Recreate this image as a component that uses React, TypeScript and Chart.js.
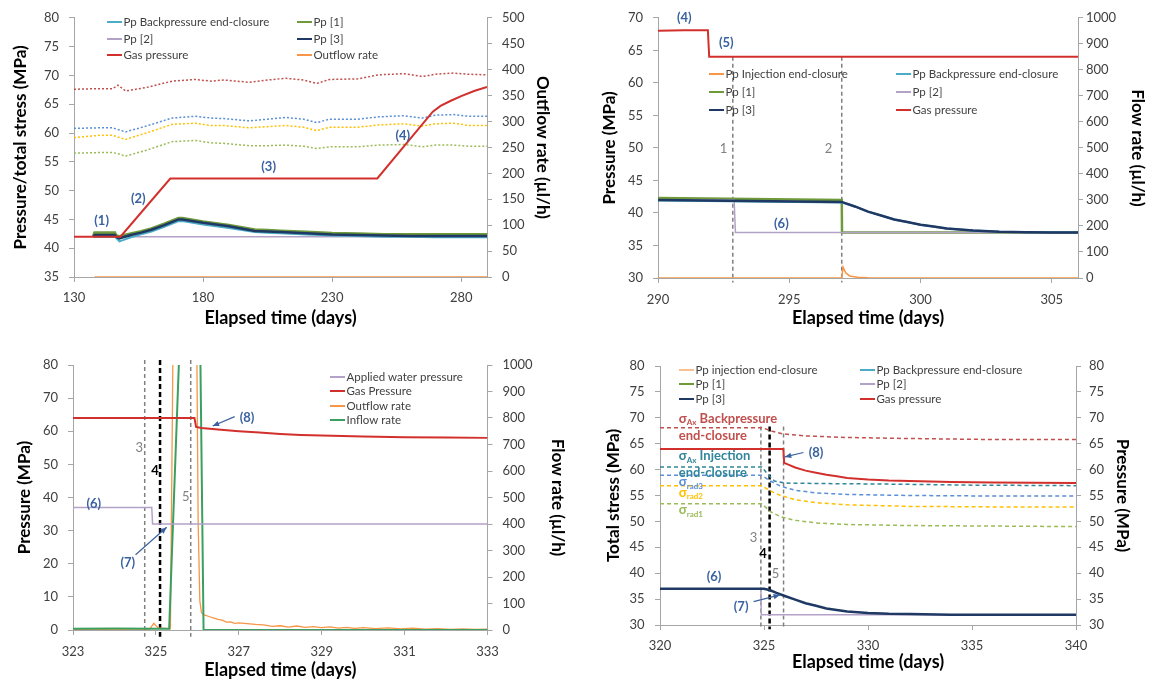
import React, { useEffect, useRef } from 'react';
import { Chart, registerables } from 'chart.js';
Chart.register(...registerables);

const FONT = 'Lato, "Open Sans", sans-serif';
const AXIS = '#a6a6a6';
const TICK = '#404040';
const ANN = '#3a62a0';
const C = {
  gas: '#d2302c', back: '#4bacc6', pp1: '#6f9a3a', pp2: '#b3a2c7', pp3: '#1f3864',
  orange: '#f79646', injLight: '#fac090', inflow: '#3a9f60', sRed: '#c0504d', sBlue: '#5b8fd6',
  sYellow: '#ffc000', sGreen: '#9bbb59', sTeal: '#31859c', gray: '#808080', black: '#000000',
};

// ---------------- Panel 1 data (days / MPa / µl/h) ----------------
const p1XTicks = [130, 180, 230, 280];
const p1YTicks = [35, 40, 45, 50, 55, 60, 65, 70, 75, 80];
const p1Y2Ticks = [0, 50, 100, 150, 200, 250, 300, 350, 400, 450, 500];
const p1Gas = [[130, 42], [148, 42], [167.3, 52.1], [247.5, 52.1], [269, 63.7], [272, 64.7], [276, 65.6], [280, 66.4], [285, 67.3], [290, 68]];
const p1StressX = [130, 140, 145, 147, 150, 158, 168, 177, 183, 188, 198, 205, 212, 219, 224, 229, 240, 248, 258, 265, 270, 277, 283, 290];
const p1SigRed = [67.6, 67.7, 67.7, 68.3, 67.3, 67.9, 69.0, 69.3, 69.0, 69.2, 68.8, 69.2, 69.5, 69.2, 68.6, 69.3, 69.4, 70.1, 70.3, 69.8, 70.2, 70.4, 70.2, 70.1];
const p1SigBlue = [60.8, 60.9, 60.9, 60.6, 60.2, 61.2, 62.6, 62.9, 62.6, 62.5, 62.1, 62.4, 62.7, 62.4, 61.8, 62.4, 62.4, 62.8, 63.0, 62.6, 63.1, 63.2, 62.9, 62.9];
const p1SigYellow = [59.2, 59.6, 59.6, 59.3, 58.9, 60.0, 61.5, 61.7, 61.3, 61.3, 60.9, 61.1, 61.3, 61.0, 60.4, 61.0, 61.0, 61.4, 61.6, 61.2, 61.6, 61.7, 61.3, 61.3];
const p1SigGreen = [56.5, 56.6, 56.6, 56.4, 56.0, 57.0, 58.5, 58.7, 58.3, 58.2, 57.8, 57.8, 57.9, 57.7, 57.3, 57.6, 57.6, 57.9, 58.0, 57.6, 57.9, 57.9, 57.7, 57.7];
const p1PpX = [137.5, 138, 145.8, 146.3, 147.6, 149, 152, 156, 160, 165, 170.5, 172, 180, 190, 200, 205, 210, 220, 230, 240, 250, 260, 270, 280, 290];
const p1Pp1 = [42.1, 42.7, 42.7, 42.2, 42.0, 42.2, 42.5, 42.9, 43.4, 44.2, 45.2, 45.2, 44.6, 44.0, 43.2, 43.1, 43.0, 42.8, 42.6, 42.5, 42.4, 42.4, 42.4, 42.4, 42.4];
const p1Pp3 = [42.0, 42.3, 42.3, 42.0, 41.7, 41.9, 42.3, 42.7, 43.2, 44.0, 45.0, 45.0, 44.4, 43.8, 43.0, 42.9, 42.8, 42.6, 42.4, 42.3, 42.2, 42.1, 42.1, 42.1, 42.1];
const p1Back = [42.0, 42.0, 42.0, 41.8, 41.2, 41.4, 41.9, 42.4, 42.9, 43.7, 44.7, 44.7, 44.1, 43.5, 42.8, 42.7, 42.6, 42.4, 42.2, 42.1, 42.0, 42.0, 41.9, 41.9, 41.9];
const p1Pp2 = [[137.5, 42], [290, 42]];
const p1Outflow = [[138, 0], [290, 0]];

// ---------------- Panel 2 data ----------------
const p2XTicks = [290, 295, 300, 305];
const p2YTicks = [30, 35, 40, 45, 50, 55, 60, 65, 70];
const p2Y2Ticks = [0, 100, 200, 300, 400, 500, 600, 700, 800, 900, 1000];
const p2Gas = [[290, 68], [291, 68.1], [291.9, 68.1], [291.95, 64], [306, 64]];
const p2Pp1 = [[290, 42.3], [297, 42.0], [297.01, 37], [306, 37]];
const p2Pp3 = [[290, 42.0], [297, 41.7], [297.5, 41.0], [298, 40.2], [298.5, 39.6], [299, 39.0], [299.5, 38.6], [300, 38.2], [300.5, 37.9], [301, 37.6], [301.5, 37.45], [302, 37.3], [303, 37.12], [304, 37.04], [305, 37.0], [306, 37.0]];
const p2Back = [[290, 41.9], [297, 41.6], [297.5, 41.0], [298, 40.2], [299, 39.0], [300, 38.2], [301, 37.6], [302, 37.3], [303, 37.12], [304, 37.04], [306, 37.0]];
const p2Pp2 = [[290, 42], [292.9, 42], [292.95, 37], [306, 37]];
const p2Inj = [[290, 0], [297, 0], [297.05, 42], [297.15, 20], [297.3, 8], [297.6, 3], [298, 1], [299, 0], [306, 0]];
const p2Marks = [292.85, 297];

// ---------------- Panel 3 data ----------------
const p3XTicks = [323, 325, 327, 329, 331, 333];
const p3YTicks = [0, 10, 20, 30, 40, 50, 60, 70, 80];
const p3Y2Ticks = [0, 100, 200, 300, 400, 500, 600, 700, 800, 900, 1000];
const p3Water = [[323, 37], [324.9, 37], [324.92, 32], [333, 32]];
const p3Gas = [[323, 64], [325.93, 64], [325.97, 61.3], [326.1, 61.0], [326.5, 60.5], [327, 60.0], [327.5, 59.6], [328, 59.2], [328.5, 58.9], [329, 58.7], [330, 58.4], [331, 58.2], [332, 58.1], [333, 58.0]];
const p3Inflow = [[323, 5], [324, 6], [325, 5], [325.32, 5], [325.6, 1200], [326.06, 1200], [326.15, 0], [333, 0]];
const p3Outflow = [[323, 2], [324.85, 3], [324.95, 25], [325.05, 8], [325.3, 5], [325.35, 5], [325.42, 1200], [325.98, 1200], [326.02, 400], [326.06, 110], [326.1, 65], [326.15, 58], [326.2, 55], [326.3, 50], [326.4, 45], [326.5, 40], [326.6, 37], [326.7, 30], [326.8, 31], [326.9, 25], [327, 27], [327.2, 24], [327.4, 21], [327.6, 19], [327.8, 14], [328, 16], [328.2, 11], [328.4, 15], [328.6, 10], [328.8, 13], [329, 9], [329.2, 12], [329.4, 7], [329.6, 10], [329.8, 6], [330, 9], [330.3, 5], [330.6, 8], [330.9, 4], [331.2, 7], [331.5, 3], [331.8, 5], [332.1, 2], [332.4, 4], [332.7, 2], [333, 3]];
const p3Marks = [324.73, 325.1, 325.84];

// ---------------- Panel 4 data ----------------
const p4XTicks = [320, 325, 330, 335, 340];
const p4YTicks = [30, 35, 40, 45, 50, 55, 60, 65, 70, 75, 80];
const p4Pp3 = [[320, 37], [325, 37], [325.3, 36.7], [325.6, 36.2], [326, 35.6], [326.5, 34.9], [327, 34.2], [327.5, 33.7], [328, 33.2], [328.5, 32.9], [329, 32.6], [330, 32.3], [331, 32.15], [332, 32.1], [334, 32.0], [340, 32]];
const p4Pp2 = [[320, 37], [324.85, 37], [324.87, 32], [340, 32]];
const p4Gas = [[320, 64], [325.93, 64], [325.97, 61.3], [326.2, 60.9], [326.5, 60.4], [327, 59.8], [327.5, 59.4], [328, 59.0], [328.5, 58.7], [329, 58.4], [330, 58.1], [331, 57.9], [332, 57.8], [334, 57.6], [336, 57.5], [338, 57.45], [340, 57.4]];
const p4SigAxBack = [[320, 68.1], [324.9, 68.1], [325.4, 67.4], [325.9, 66.9], [327, 66.5], [329, 66.2], [332, 66.0], [336, 65.8], [340, 65.8]];
const p4SigAxInj = [[320, 60.5], [324.9, 60.5], [325.2, 59.0], [325.5, 57.8], [326, 57.4], [328, 57.3], [331, 57.2], [335, 57.0], [340, 56.9]];
const p4SigRad3 = [[320, 58.9], [324.9, 58.9], [325.3, 57.8], [325.8, 56.8], [326.5, 56.0], [327.5, 55.5], [329, 55.2], [332, 55.0], [336, 54.9], [340, 54.9]];
const p4SigRad2 = [[320, 56.9], [324.9, 56.9], [325.3, 55.9], [325.8, 55.0], [326.5, 54.2], [327.5, 53.6], [329, 53.2], [332, 52.9], [336, 52.8], [340, 52.8]];
const p4SigRad1 = [[320, 53.4], [324.9, 53.4], [325.3, 51.9], [325.8, 50.9], [326.5, 50.2], [327.5, 49.7], [329, 49.4], [332, 49.2], [336, 49.1], [340, 49.0]];
const p4Marks = [324.85, 325.27, 325.94];

// ---------------- helpers ----------------
const xy = (a: number[][]) => a.map(([x, y]) => ({ x, y }));
const zip = (xs: number[], ys: number[]) => xs.map((x, i) => ({ x, y: ys[i] }));

function line(data: any[], color: string, width: number, yAxisID = 'y', extra: any = {}) {
  return { data, borderColor: color, backgroundColor: color, borderWidth: width, pointRadius: 0, tension: 0, fill: false, yAxisID, ...extra };
}

function mark(x: number, y1: number, y2: number, strong: boolean) {
  return line(xy([[x, y1], [x, y2]]), strong ? C.black : C.gray, strong ? 2.5 : 1.5, 'y', { borderDash: strong ? [5, 3] : [4, 3], clip: false });
}

function scale(pos: string, min: number, max: number, ticks: number[], title: string, size: number, pad: number) {
  return {
    type: 'linear', position: pos, min, max,
    afterBuildTicks: (s: any) => { s.ticks = ticks.map((v) => ({ value: v })); },
    afterFit: (s: any) => { if (pos === 'bottom') s.height = size; else s.width = size; },
    border: { display: true, color: AXIS, width: 1 },
    grid: { display: true, drawOnChartArea: false, drawTicks: true, tickLength: 5, color: AXIS },
    ticks: { color: TICK, font: { family: FONT, size: 13 }, padding: pad, autoSkip: false, maxRotation: 0, callback: (v: any) => String(v) },
    title: { display: true, text: title, color: '#000', font: { family: FONT, size: pos === 'bottom' ? 18 : 17, weight: 'bold' }, padding: 0 },
  };
}

type Txt = { t: string; x: number; y: number; c?: string; f?: string };
type Arrow = { x1: number; y1: number; x2: number; y2: number };
type Leg = { label: string; color: string; x: number; y: number };
type Rich = { parts: [string, boolean][]; x: number; y: number; c: string };

function overlay(texts: Txt[], arrows: Arrow[], legend: Leg[], rich: Rich[] = []) {
  return {
    id: 'overlay',
    afterDatasetsDraw(chart: any) {
      const ctx = chart.ctx as CanvasRenderingContext2D;
      const xs = chart.scales.x, ys = chart.scales.y;
      ctx.save();
      ctx.font = `11.5px ${FONT}`;
      ctx.textBaseline = 'middle';
      ctx.textAlign = 'left';
      for (const l of legend) {
        ctx.strokeStyle = l.color; ctx.lineWidth = 2; ctx.setLineDash([]);
        ctx.beginPath(); ctx.moveTo(l.x, l.y); ctx.lineTo(l.x + 15, l.y); ctx.stroke();
        ctx.fillStyle = TICK; ctx.fillText(l.label, l.x + 16.5, l.y);
      }
      for (const a of arrows) {
        const x1 = xs.getPixelForValue(a.x1), y1 = ys.getPixelForValue(a.y1);
        const x2 = xs.getPixelForValue(a.x2), y2 = ys.getPixelForValue(a.y2);
        ctx.strokeStyle = ANN; ctx.fillStyle = ANN; ctx.lineWidth = 1.2;
        ctx.beginPath(); ctx.moveTo(x1, y1); ctx.lineTo(x2, y2); ctx.stroke();
        const ang = Math.atan2(y2 - y1, x2 - x1), L = 7;
        ctx.beginPath(); ctx.moveTo(x2, y2);
        ctx.lineTo(x2 - L * Math.cos(ang - 0.4), y2 - L * Math.sin(ang - 0.4));
        ctx.lineTo(x2 - L * Math.cos(ang + 0.4), y2 - L * Math.sin(ang + 0.4));
        ctx.closePath(); ctx.fill();
      }
      ctx.textAlign = 'center';
      for (const t of texts) {
        ctx.font = t.f || `bold 13px ${FONT}`;
        ctx.fillStyle = t.c || ANN;
        ctx.fillText(t.t, xs.getPixelForValue(t.x), ys.getPixelForValue(t.y));
      }
      ctx.textAlign = 'left';
      for (const r of rich) {
        let px = xs.getPixelForValue(r.x);
        const py = ys.getPixelForValue(r.y);
        ctx.fillStyle = r.c;
        for (const [s, sub] of r.parts) {
          ctx.font = sub ? `bold 8px ${FONT}` : `bold 13px ${FONT}`;
          ctx.fillText(s, px, sub ? py + 4 : py);
          px += ctx.measureText(s).width;
        }
      }
      ctx.restore();
    },
  };
}

function baseOptions(scales: any, padding: any) {
  return {
    animation: false, responsive: false, maintainAspectRatio: false,
    layout: { padding },
    plugins: { legend: { display: false }, tooltip: { enabled: false } },
    scales,
  };
}

// ---------------- panel configs ----------------
function cfg1() {
  const datasets = [
    line(xy(p1Gas), C.gas, 2),
    line(xy(p1Outflow), C.orange, 1.5, 'y2'),
    line(zip(p1PpX, p1Pp3), C.pp3, 2.5),
    line(zip(p1PpX, p1Back), C.back, 2),
    line(zip(p1PpX, p1Pp1), C.pp1, 3),
    line(xy(p1Pp2), C.pp2, 1.5),
    line(zip(p1StressX, p1SigRed), C.sRed, 1.5, 'y', { borderDash: [2, 2] }),
    line(zip(p1StressX, p1SigBlue), C.sBlue, 1.5, 'y', { borderDash: [2, 2] }),
    line(zip(p1StressX, p1SigYellow), C.sYellow, 1.5, 'y', { borderDash: [2, 2] }),
    line(zip(p1StressX, p1SigGreen), C.sGreen, 1.5, 'y', { borderDash: [2, 2] }),
  ];
  const scales = {
    x: scale('bottom', 130, 290, p1XTicks, 'Elapsed time (days)', 52, 8),
    y: scale('left', 35, 80, p1YTicks, 'Pressure/total stress (MPa)', 64, 10),
    y2: scale('right', 0, 500, p1Y2Ticks, 'Outflow rate (µl/h)', 65.5, 10),
  };
  const texts: Txt[] = [
    { t: '(1)', x: 140.7, y: 44.8 }, { t: '(2)', x: 154.9, y: 48.5 },
    { t: '(3)', x: 205.4, y: 54.1 }, { t: '(4)', x: 257.4, y: 59.5 },
  ];
  const legend: Leg[] = [
    { label: 'Pp Backpressure end-closure', color: C.back, x: 107, y: 22 },
    { label: 'Pp [1]', color: C.pp1, x: 297, y: 22 },
    { label: 'Pp [2]', color: C.pp2, x: 107, y: 39 },
    { label: 'Pp [3]', color: C.pp3, x: 297, y: 39 },
    { label: 'Gas pressure', color: C.gas, x: 107, y: 55 },
    { label: 'Outflow rate', color: C.orange, x: 297, y: 55 },
  ];
  return { type: 'line', data: { datasets }, options: baseOptions(scales, { left: 10, right: 23.5, top: 16, bottom: 11 }), plugins: [overlay(texts, [], legend)] };
}

function cfg2() {
  const datasets = [
    line(xy(p2Gas), C.gas, 2),
    line(xy(p2Inj), C.orange, 1.5, 'y2'),
    line(xy(p2Pp3), C.pp3, 2.5),
    line(xy(p2Back), C.back, 2),
    line(xy(p2Pp2), C.pp2, 1.5),
    line(xy(p2Pp1), C.pp1, 2.5),
    ...p2Marks.map((m) => mark(m, 64, 29.3, false)),
  ];
  const scales = {
    x: scale('bottom', 290, 306, p2XTicks, 'Elapsed time (days)', 51, 9),
    y: scale('left', 30, 70, p2YTicks, 'Pressure (MPa)', 59, 10),
    y2: scale('right', 0, 1000, p2Y2Ticks, 'Flow rate (µl/h)', 70, 3),
  };
  const g = `13px ${FONT}`;
  const texts: Txt[] = [
    { t: '(4)', x: 291.0, y: 70.0 }, { t: '(5)', x: 292.6, y: 66.1 }, { t: '(6)', x: 294.7, y: 38.3 },
    { t: '1', x: 292.5, y: 49.8, c: C.gray, f: g }, { t: '2', x: 296.5, y: 49.8, c: C.gray, f: g },
  ];
  const legend: Leg[] = [
    { label: 'Pp Injection end-closure', color: C.orange, x: 133, y: 74 },
    { label: 'Pp Backpressure end-closure', color: C.back, x: 320, y: 74 },
    { label: 'Pp [1]', color: C.pp1, x: 133, y: 92 },
    { label: 'Pp [2]', color: C.pp2, x: 320, y: 92 },
    { label: 'Pp [3]', color: C.pp3, x: 133, y: 110 },
    { label: 'Gas pressure', color: C.gas, x: 320, y: 110 },
  ];
  return { type: 'line', data: { datasets }, options: baseOptions(scales, { left: 23, right: 5, top: 10, bottom: 11 }), plugins: [overlay(texts, [], legend)] };
}

function cfg3() {
  const datasets = [
    line(xy(p3Gas), C.gas, 2),
    line(xy(p3Water), C.pp2, 1.5),
    line(xy(p3Inflow), C.inflow, 2, 'y2'),
    line(xy(p3Outflow), C.orange, 1.3, 'y2'),
    ...p3Marks.map((m, i) => mark(m, 81.5, -2, i === 1)),
  ];
  const scales = {
    x: scale('bottom', 323, 333, p3XTicks, 'Elapsed time (days)', 51, 9),
    y: scale('left', 0, 80, p3YTicks, 'Pressure (MPa)', 59, 10),
    y2: scale('right', 0, 1000, p3Y2Ticks, 'Flow rate (µl/h)', 80.5, 10),
  };
  const g = `13px ${FONT}`;
  const texts: Txt[] = [
    { t: '(6)', x: 323.5, y: 38.2 }, { t: '(7)', x: 324.32, y: 20.3 }, { t: '(8)', x: 327.2, y: 64.1 },
    { t: '3', x: 324.6, y: 55, c: C.gray, f: g }, { t: '4', x: 324.98, y: 48, c: C.black, f: `bold 13px ${FONT}` },
    { t: '5', x: 325.72, y: 40.2, c: C.gray, f: g },
  ];
  const arrows: Arrow[] = [
    { x1: 324.51, y1: 22.7, x2: 325.26, y2: 31.0 },
    { x1: 326.9, y1: 64.4, x2: 326.37, y2: 61.6 },
  ];
  const legend: Leg[] = [
    { label: 'Applied water pressure', color: C.pp2, x: 330, y: 37 },
    { label: 'Gas Pressure', color: C.gas, x: 330, y: 51 },
    { label: 'Outflow rate', color: C.orange, x: 330, y: 66 },
    { label: 'Inflow rate', color: C.inflow, x: 330, y: 80 },
  ];
  return { type: 'line', data: { datasets }, options: baseOptions(scales, { left: 14, right: 8, top: 25, bottom: 3 }), plugins: [overlay(texts, arrows, legend)] };
}

function cfg4() {
  const d = [4, 3];
  const datasets = [
    line(xy(p4Gas), C.gas, 2),
    line(xy(p4Pp3), C.pp3, 2.5),
    line(xy(p4Pp2), C.pp2, 1.5),
    line(xy(p4SigAxBack), C.sRed, 1.5, 'y', { borderDash: d }),
    line(xy(p4SigAxInj), C.sTeal, 1.5, 'y', { borderDash: d }),
    line(xy(p4SigRad3), C.sBlue, 1.5, 'y', { borderDash: d }),
    line(xy(p4SigRad2), C.sYellow, 1.5, 'y', { borderDash: d }),
    line(xy(p4SigRad1), C.sGreen, 1.5, 'y', { borderDash: d }),
    ...p4Marks.map((m, i) => mark(m, 68.3, 29.2, i === 1)),
  ];
  const scales = {
    x: scale('bottom', 320, 340, p4XTicks, 'Elapsed time (days)', 48, 8),
    y: scale('left', 30, 80, p4YTicks, 'Total stress (MPa)', 57, 10.5),
    y2: scale('right', 30, 80, p4YTicks, 'Pressure (MPa)', 57, 8),
  };
  const g = `13px ${FONT}`;
  const texts: Txt[] = [
    { t: '(6)', x: 322.6, y: 39.3 }, { t: '(7)', x: 323.9, y: 33.5 }, { t: '(8)', x: 327.5, y: 63.3 },
    { t: '3', x: 324.5, y: 46.8, c: C.gray, f: g }, { t: '4', x: 324.95, y: 43.8, c: C.black, f: `bold 13px ${FONT}` },
    { t: '5', x: 325.55, y: 39.8, c: C.gray, f: g },
  ];
  const arrows: Arrow[] = [
    { x1: 324.5, y1: 34.5, x2: 325.77, y2: 35.8 },
    { x1: 326.9, y1: 63.3, x2: 326.0, y2: 62.45 },
  ];
  const rich: Rich[] = [
    { parts: [['σ', false], ['Ax', true], [' Backpressure', false]], x: 320.9, y: 69.8, c: C.sRed },
    { parts: [['end-closure', false]], x: 320.9, y: 66.6, c: C.sRed },
    { parts: [['σ', false], ['Ax', true], [' Injection', false]], x: 320.9, y: 62.6, c: C.sTeal },
    { parts: [['end-closure', false]], x: 320.9, y: 59.4, c: C.sTeal },
    { parts: [['σ', false], ['rad3', true]], x: 320.9, y: 57.6, c: C.sBlue },
    { parts: [['σ', false], ['rad2', true]], x: 320.9, y: 55.5, c: C.sYellow },
    { parts: [['σ', false], ['rad1', true]], x: 320.9, y: 52.2, c: C.sGreen },
  ];
  const legend: Leg[] = [
    { label: 'Pp injection end-closure', color: C.injLight, x: 103, y: 30 },
    { label: 'Pp Backpressure end-closure', color: C.back, x: 284, y: 30 },
    { label: 'Pp [1]', color: C.pp1, x: 103, y: 44 },
    { label: 'Pp [2]', color: C.pp2, x: 284, y: 44 },
    { label: 'Pp [3]', color: C.pp3, x: 103, y: 59 },
    { label: 'Gas pressure', color: C.gas, x: 284, y: 59 },
  ];
  return { type: 'line', data: { datasets }, options: baseOptions(scales, { left: 27, right: 20, top: 26, bottom: 11 }), plugins: [overlay(texts, arrows, legend, rich)] };
}

function Panel({ left, top, width, height, build }: { left: number; top: number; width: number; height: number; build: () => any }) {
  const ref = useRef<HTMLCanvasElement>(null);
  useEffect(() => {
    const chart = new Chart(ref.current as HTMLCanvasElement, build());
    return () => chart.destroy();
  }, []);
  return (
    <div style={{ position: 'absolute', left, top, width, height }}>
      <canvas ref={ref} width={width} height={height} style={{ display: 'block', width, height }} />
    </div>
  );
}

export default function App() {
  return (
    <div style={{ position: 'fixed', left: 0, top: 0, width: 1153, height: 684, background: '#fff', overflow: 'hidden' }}>
      <Panel left={0} top={0} width={576} height={340} build={cfg1} />
      <Panel left={576} top={0} width={577} height={340} build={cfg2} />
      <Panel left={0} top={340} width={576} height={344} build={cfg3} />
      <Panel left={576} top={340} width={577} height={344} build={cfg4} />
    </div>
  );
}
